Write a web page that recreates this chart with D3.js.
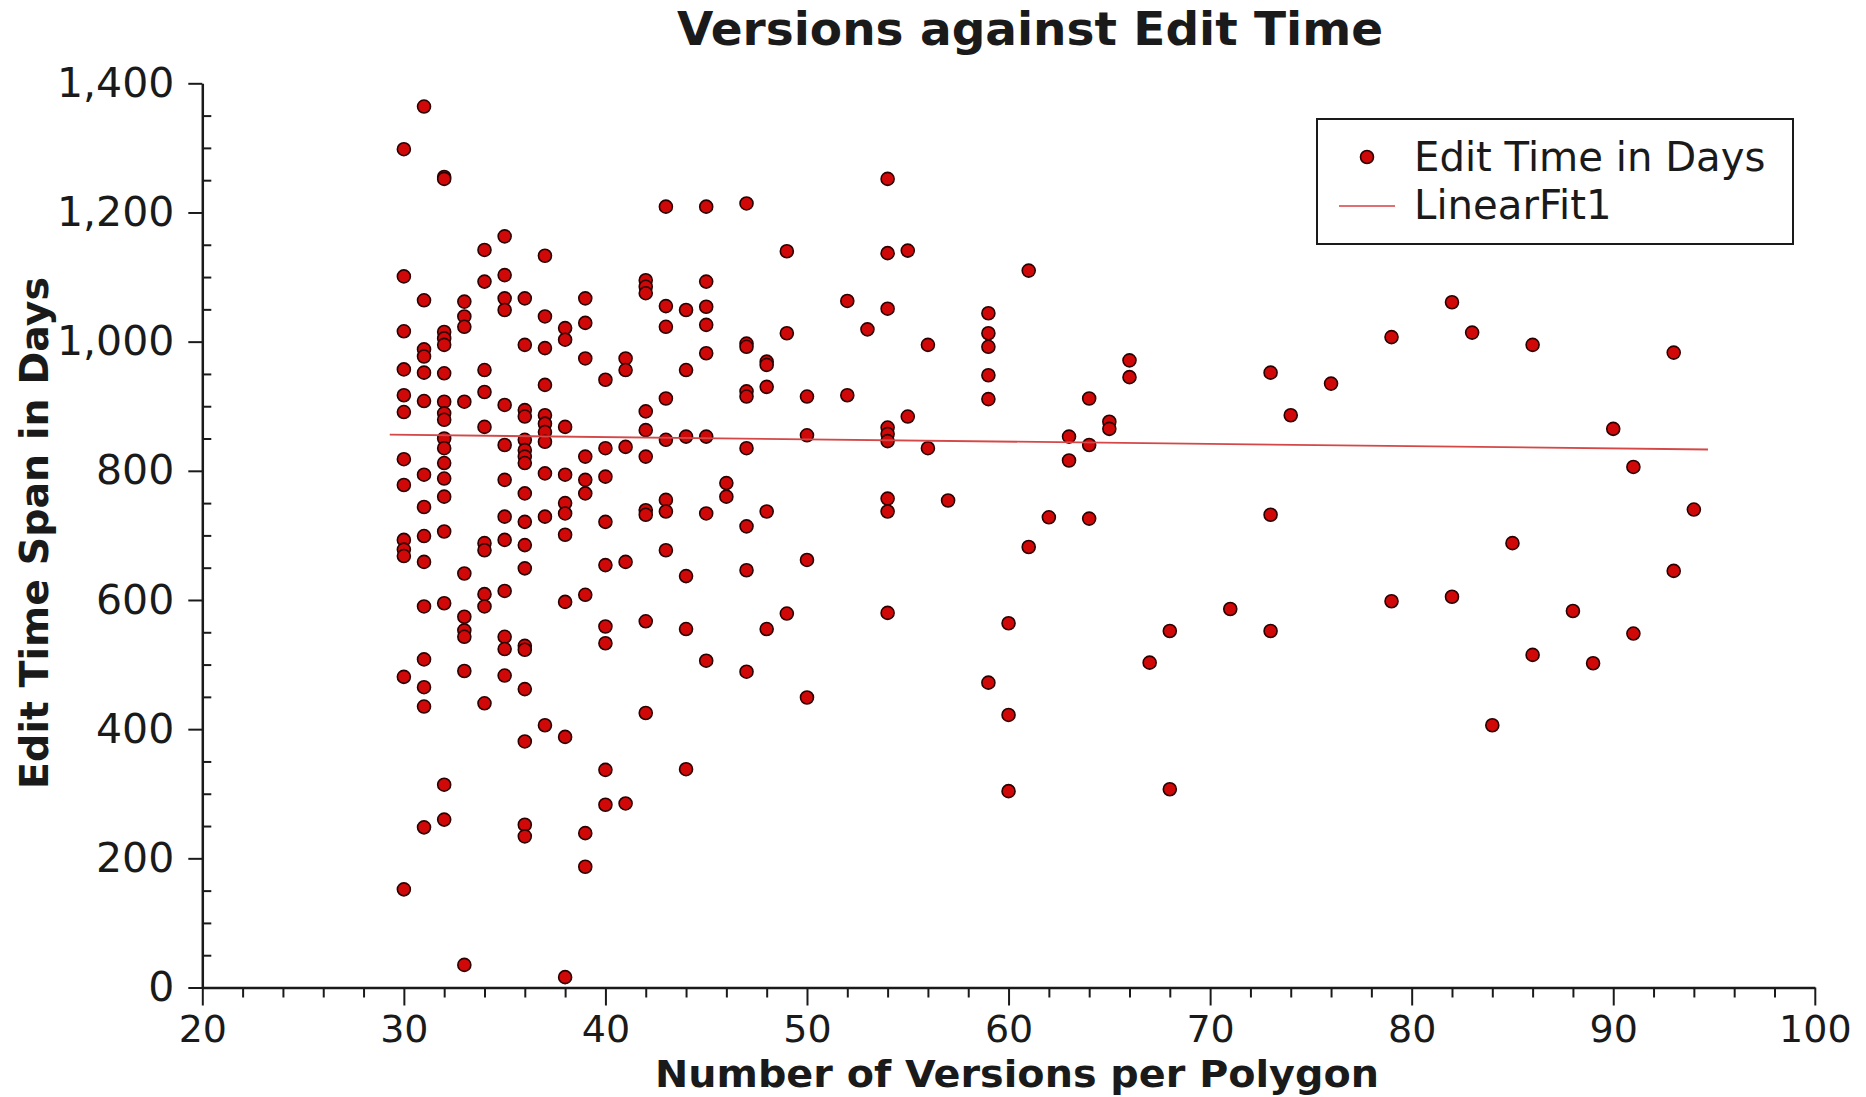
<!DOCTYPE html>
<html><head><meta charset="utf-8">
<script src="https://cdn.jsdelivr.net/npm/d3@7"></script>
<style>
html,body{margin:0;padding:0;background:#fff;}
svg{display:block;}
text{font-family:"DejaVu Sans",sans-serif;}
</style>
</head><body>
<svg id="chart" width="1866" height="1097"></svg>
<script>
// ---- data ----
const versionValues = [30,31,32,33,34,35,36,37,38,39,40,41,42,43,44,45,46,47,48,49,50,52,53,54,55,56,57,59,60,61,62,63,64,65,66,67,68,71,73,74,76,79,82,83,84,85,86,88,89,90,91,93,94];
const editDaysByVersion = [
  [1298,1101,1016,957,917,891,818,778,693,678,668,481,152],
  [1364,1064,988,977,952,908,794,744,699,659,590,508,465,435,248],
  [1255,1252,1015,1005,995,951,907,889,879,850,835,812,788,760,706,595,314,260],
  [1062,1039,1023,907,641,574,553,543,490,35],
  [1142,1093,956,922,868,688,677,609,590,440],
  [1163,1103,1067,1049,902,840,786,729,693,614,543,524,483],
  [1067,995,894,884,848,832,822,812,765,721,685,649,529,523,462,381,252,234],
  [1133,1039,990,933,886,873,860,845,796,729,406],
  [1021,1003,868,794,750,734,701,597,388,16],
  [1067,1029,974,822,786,765,608,239,187],
  [941,835,791,721,654,559,533,337,283],
  [974,956,837,659,285],
  [1095,1085,1075,892,863,822,739,732,567,425],
  [1209,1055,1023,912,848,755,737,677],
  [1049,956,853,637,555,338],
  [1209,1093,1054,1026,982,853,734,506],
  [781,760],
  [1214,997,992,923,915,835,714,646,489],
  [969,964,930,737,555],
  [1140,1013,579],
  [915,855,662,449],
  [1063,917],
  [1019],
  [1252,1137,1051,867,857,846,757,737,580],
  [1141,884],
  [995,835],
  [754],
  [1044,1013,992,948,911,472],
  [564,422,304],
  [1110,682],
  [728],
  [853,816],
  [912,840,726],
  [876,865],
  [971,945],
  [503],
  [552,307],
  [586],
  [952,732,552],
  [886],
  [935],
  [1007,598],
  [1061,605],
  [1014],
  [406],
  [688],
  [995,515],
  [583],
  [502],
  [865],
  [806,548],
  [983,645],
  [740]
];
const fitVersions = [29.3, 94.7];
const fitDays = [856, 833];
const xTickValues = [20,30,40,50,60,70,80,90,100];
const yTickValues = [0,200,400,600,800,1000,1200,1400];
const chartTitle = "Versions against Edit Time";
const xAxisTitle = "Number of Versions per Polygon";
const yAxisTitle = "Edit Time Span in Days";
const legendLabels = ["Edit Time in Days", "LinearFit1"];

// ---- layout ----
const plot = {left: 202.3, right: 1814.8, top: 83.3, bottom: 987.5};
const pointFill = "#d00808", pointStroke = "#2a0000", fitColor = "#d54848";
const svg = d3.select("#chart");

const x = d3.scaleLinear().domain([20, 100]).range([plot.left, plot.right]);
const y = d3.scaleLinear().domain([0, 1400]).range([plot.bottom, plot.top]);

const points = versionValues.flatMap((v, i) => editDaysByVersion[i].map(d => ({v, d})));

// title
svg.append("text").attr("x", 1030).attr("y", 45).attr("text-anchor", "middle")
  .attr("font-size", 47).attr("font-weight", "bold").attr("fill", "#1a1a1a").text(chartTitle);

// x axis
const xMinor = d3.range(20, 101, 2).filter(t => t % 10 !== 0);
svg.append("g").attr("transform", `translate(0,${plot.bottom})`)
  .call(d3.axisBottom(x).tickValues(xMinor).tickSize(10).tickFormat(""))
  .call(g => g.select(".domain").remove())
  .call(g => g.selectAll("line").attr("stroke", "#1a1a1a").attr("stroke-width", 2));
const gx = svg.append("g").attr("transform", `translate(0,${plot.bottom})`)
  .call(d3.axisBottom(x).tickValues(xTickValues).tickSize(18).tickPadding(10).tickSizeOuter(0).tickFormat(d3.format("d")));
gx.select(".domain").attr("stroke", "#1a1a1a").attr("stroke-width", 2.5);
gx.selectAll("line").attr("stroke", "#1a1a1a").attr("stroke-width", 2);
gx.selectAll("text").attr("font-size", 38).attr("fill", "#1a1a1a").attr("font-family", "DejaVu Sans");

// y axis
const yMinor = d3.range(0, 1401, 50).filter(t => t % 200 !== 0);
svg.append("g").attr("transform", `translate(${plot.left},0)`)
  .call(d3.axisRight(y).tickValues(yMinor).tickSize(9).tickFormat(""))
  .call(g => g.select(".domain").remove())
  .call(g => g.selectAll("line").attr("stroke", "#1a1a1a").attr("stroke-width", 2));
const gy = svg.append("g").attr("transform", `translate(${plot.left},0)`)
  .call(d3.axisLeft(y).tickValues(yTickValues).tickSize(14).tickPadding(14).tickSizeOuter(0).tickFormat(d3.format(",")));
gy.select(".domain").attr("stroke", "#1a1a1a").attr("stroke-width", 2.5);
gy.selectAll("line").attr("stroke", "#1a1a1a").attr("stroke-width", 2);
gy.selectAll("text").attr("font-size", 41).attr("fill", "#1a1a1a").attr("font-family", "DejaVu Sans");

// axis titles
svg.append("text").attr("x", 1017).attr("y", 1087).attr("text-anchor", "middle")
  .attr("font-size", 38).attr("font-weight", "bold").attr("fill", "#1a1a1a")
  .attr("textLength", 724).attr("lengthAdjust", "spacingAndGlyphs").text(xAxisTitle);
svg.append("text").attr("transform", `translate(48,533) rotate(-90)`).attr("text-anchor", "middle")
  .attr("font-size", 39.5).attr("font-weight", "bold").attr("fill", "#1a1a1a").text(yAxisTitle);

// points
svg.append("g").selectAll("circle").data(points).join("circle")
  .attr("cx", p => x(p.v)).attr("cy", p => y(p.d)).attr("r", 6.5)
  .attr("fill", pointFill).attr("stroke", pointStroke).attr("stroke-width", 1.6);

// fit line
const fitData = fitVersions.map((v, i) => ({v, d: fitDays[i]}));
svg.append("path").datum(fitData)
  .attr("d", d3.line().x(p => x(p.v)).y(p => y(p.d)))
  .attr("fill", "none").attr("stroke", fitColor).attr("stroke-width", 1.8);

// legend
const lg = svg.append("g");
lg.append("rect").attr("x", 1317).attr("y", 119).attr("width", 476).attr("height", 125)
  .attr("fill", "#fff").attr("stroke", "#1a1a1a").attr("stroke-width", 2);
lg.append("circle").attr("cx", 1367).attr("cy", 157).attr("r", 6.5)
  .attr("fill", pointFill).attr("stroke", pointStroke).attr("stroke-width", 1.6);
lg.append("line").attr("x1", 1339).attr("x2", 1395).attr("y1", 206).attr("y2", 206)
  .attr("stroke", "#e07070").attr("stroke-width", 2.2);
lg.selectAll("text.lbl").data(legendLabels).join("text").attr("class", "lbl")
  .attr("x", 1414).attr("y", (d, i) => 171 + i * 48)
  .attr("font-size", 40.2).attr("fill", "#1a1a1a").text(d => d);
</script>
</body></html>
